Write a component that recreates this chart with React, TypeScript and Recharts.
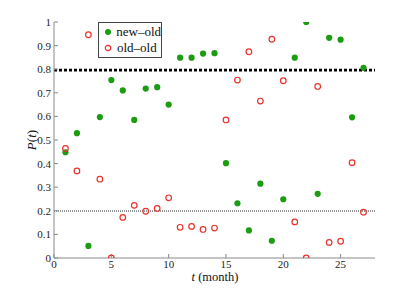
import {
  ScatterChart,
  Scatter,
  XAxis,
  YAxis,
  ReferenceLine,
} from "recharts";

const months = [1, 2, 3, 4, 5, 6, 7, 8, 9, 10, 11, 12, 13, 14, 15, 16, 17, 18, 19, 20, 21, 22, 23, 24, 25, 26, 27];

const newOld = [
  0.448, 0.529, 0.051, 0.597, 0.754, 0.71, 0.585, 0.718, 0.724, 0.65, 0.849, 0.849, 0.866, 0.868,
  0.402, 0.232, 0.117, 0.315, 0.073, 0.249, 0.849, 1.0, 0.272, 0.933, 0.925, 0.596, 0.806,
];

const oldOld = [
  0.464, 0.369, 0.946, 0.334, 0.0, 0.172, 0.223, 0.198, 0.21, 0.255, 0.13, 0.134, 0.121, 0.127,
  0.585, 0.754, 0.874, 0.665, 0.927, 0.751, 0.153, 0.0, 0.727, 0.066, 0.071, 0.404, 0.194,
];

const xTicks = [0, 5, 10, 15, 20, 25];
const yTicks = [0, 0.1, 0.2, 0.3, 0.4, 0.5, 0.6, 0.7, 0.8, 0.9, 1];

const meanNewOld = 0.796;
const meanOldOld = 0.199;

const seriesNames = ["new\u2013old", "old\u2013old"];

const GREEN = "#1c9c10";
const RED = "#e8322b";
const FRAME = "#8a8a8a";
const FONT = "'Liberation Serif', 'Times New Roman', serif";

const newOldData = months.map((m, i) => ({ t: m, p: newOld[i] }));
const oldOldData = months.map((m, i) => ({ t: m, p: oldOld[i] }));

const GreenDot = (props: any) => <circle cx={props.cx} cy={props.cy} r={3.1} fill={GREEN} />;
const RedRing = (props: any) => (
  <circle cx={props.cx} cy={props.cy} r={2.8} fill="none" stroke={RED} strokeWidth={1.2} />
);

const XTick = (props: any) => (
  <text x={props.x} y={props.y} dy={7} textAnchor="middle" style={{ fontFamily: FONT, fontSize: 11 }} fill="#222">
    {props.payload.value}
  </text>
);

const YTick = (props: any) => (
  <text x={props.x} y={props.y} dy={4} textAnchor="end" style={{ fontFamily: FONT, fontSize: 11 }} fill="#222">
    {props.payload.value}
  </text>
);

// legend drawn as an overlay so it does not shrink the plot area
const LegendBox = () => (
  <div
    style={{
      position: "absolute",
      left: 98,
      top: 22,
      border: "1px solid #444",
      background: "#fff",
      width: 64,
      height: 36,
      fontFamily: FONT,
      fontSize: 13,
      color: "#111",
      paddingTop: 1,
      boxSizing: "border-box",
      whiteSpace: "nowrap",
    }}
  >
    {seriesNames.map((name, i) => (
      <div key={name} style={{ display: "flex", alignItems: "center", height: 16 }}>
        <svg width={14} height={10} style={{ marginLeft: 3 }}>
          {i === 0 ? (
            <circle cx={6} cy={5} r={3} fill={GREEN} />
          ) : (
            <circle cx={6} cy={5} r={2.7} fill="none" stroke={RED} strokeWidth={1.2} />
          )}
        </svg>
        <span style={{ marginLeft: 1, lineHeight: "16px" }}>{name}</span>
      </div>
    ))}
  </div>
);

const blank = () => "";

export default function App() {
  return (
    <div style={{ position: "absolute", left: 0, top: 0, background: "#fff", fontFamily: FONT }}>
      <ScatterChart width={415} height={291} margin={{ top: 22, right: 40, left: 0, bottom: 0 }}>
        <XAxis
          xAxisId="b"
          dataKey="t"
          type="number"
          domain={[0, 28]}
          ticks={xTicks}
          allowDataOverflow
          height={33}
          stroke={FRAME}
          tickSize={-4}
          tickMargin={7}
          tick={<XTick />}
          label={{
            content: () => (
              <text x={215} y={281} textAnchor="middle" style={{ fontFamily: FONT, fontSize: 12.5 }} fill="#111">
                <tspan fontStyle="italic">t</tspan> (month)
              </text>
            ),
          }}
        />
        <XAxis
          xAxisId="top"
          orientation="top"
          type="number"
          domain={[0, 28]}
          ticks={xTicks}
          height={0}
          stroke={FRAME}
          tickSize={-4}
          tickFormatter={blank}
        />
        <YAxis
          yAxisId="l"
          dataKey="p"
          type="number"
          domain={[0, 1]}
          ticks={yTicks}
          allowDataOverflow
          width={54}
          stroke={FRAME}
          tickSize={-4}
          tickMargin={7}
          tick={<YTick />}
          label={{
            content: () => (
              <text
                x={36}
                y={140}
                textAnchor="middle"
                transform="rotate(-90 36 140)"
                style={{ fontFamily: FONT, fontSize: 13 }}
                fill="#111"
              >
                <tspan fontStyle="italic">P</tspan>(<tspan fontStyle="italic">t</tspan>)
              </text>
            ),
          }}
        />
        <YAxis
          yAxisId="r"
          orientation="right"
          type="number"
          domain={[0, 1]}
          ticks={yTicks}
          width={0}
          stroke={FRAME}
          tickSize={-4}
          tickFormatter={blank}
        />
        <ReferenceLine
          xAxisId="b"
          yAxisId="l"
          y={meanNewOld}
          stroke="#000"
          strokeWidth={2.6}
          strokeDasharray="3 2"
        />
        <ReferenceLine
          xAxisId="b"
          yAxisId="l"
          y={meanOldOld}
          stroke="#333"
          strokeWidth={1}
          strokeDasharray="1 1"
        />
        <Scatter
          name={seriesNames[0]}
          xAxisId="b"
          yAxisId="l"
          data={newOldData}
          fill={GREEN}
          shape={GreenDot}
          isAnimationActive={false}
        />
        <Scatter
          name={seriesNames[1]}
          xAxisId="b"
          yAxisId="l"
          data={oldOldData}
          fill={RED}
          shape={RedRing}
          isAnimationActive={false}
        />
      </ScatterChart>
      <LegendBox />
    </div>
  );
}
